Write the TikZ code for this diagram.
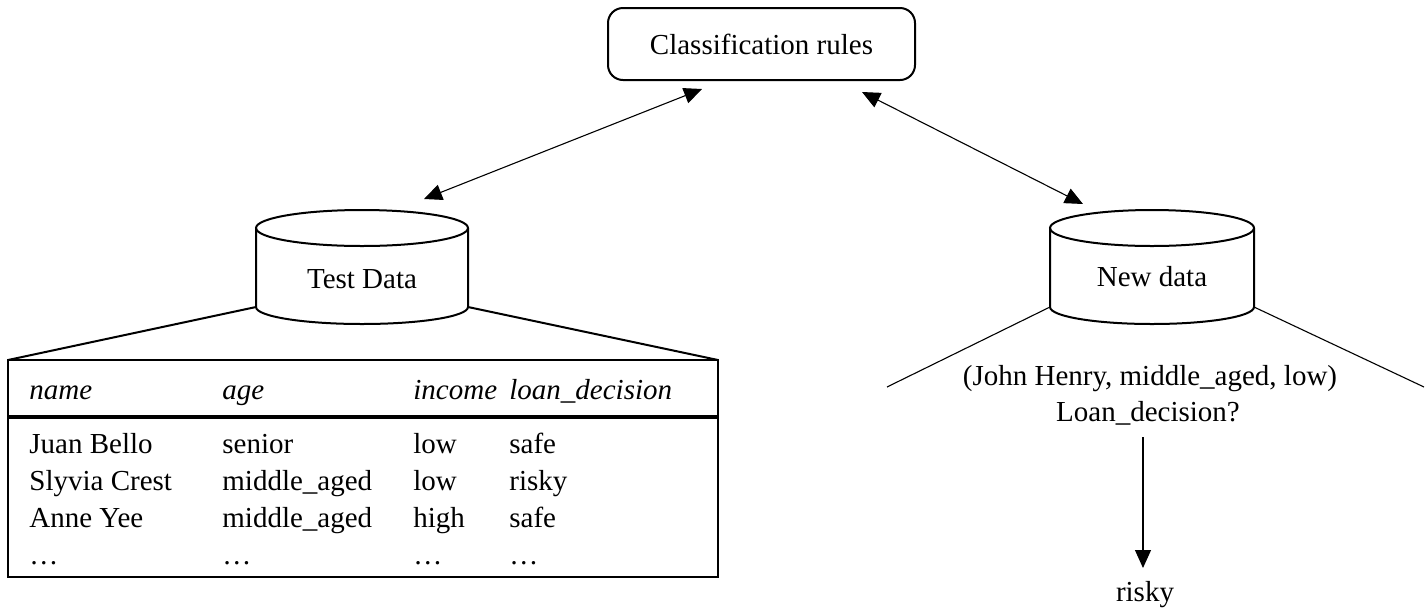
\documentclass[tikz,border=0pt]{standalone}
\usepackage{fontspec}
\setmainfont{Liberation Serif}
\usetikzlibrary{arrows.meta}
\begin{document}
\begin{tikzpicture}[x=0.5pt,y=-0.5pt,
  every node/.style={font=\fontsize{14.5}{17}\selectfont, inner sep=0pt},
  rulebox/.style={draw, line width=1pt, rounded corners=7.5pt, minimum width=153.5pt, minimum height=36pt},
  dbline/.style={line width=1pt},
  link/.style={line width=0.55pt, {Triangle[length=9pt,width=8pt]}-{Triangle[length=9pt,width=8pt]}},
  flow/.style={line width=0.55pt, -{Triangle[length=9pt,width=8pt]}},
  fan/.style={line width=0.55pt},
  cell/.style={anchor=base west},
  head/.style={anchor=base west, font=\fontsize{14.5}{17}\selectfont\itshape}]
\useasboundingbox (0,0) rectangle (1426,612);

% rules box at the top
\node[rulebox] (rules) at (761.5,44) {Classification rules};

% Test Data cylinder
\coordinate (tdTL) at (256,228);
\coordinate (tdBL) at (256,307);
\coordinate (tdTR) at (468,228);
\coordinate (tdBR) at (468,307);
\draw[dbline] (362,228) ellipse[x radius=53pt, y radius=9pt];
\draw[dbline] (tdTL) -- (tdBL) arc[start angle=180, end angle=360, x radius=53pt, y radius=8.5pt] -- (tdTR);
\node (td) at (362,279) {Test Data};

% New data cylinder
\coordinate (ndTL) at (1050,228);
\coordinate (ndBL) at (1050,307);
\coordinate (ndTR) at (1254,228);
\coordinate (ndBR) at (1254,307);
\draw[dbline] (1152,228) ellipse[x radius=51pt, y radius=9pt];
\draw[dbline] (ndTL) -- (ndBL) arc[start angle=180, end angle=360, x radius=51pt, y radius=8.5pt] -- (ndTR);
\node (nd) at (1152,277) {New data};

% links between the rules and the data stores
\coordinate (rulesL) at (702,89);
\coordinate (tdIn) at (424,199);
\coordinate (rulesR) at (862,92);
\coordinate (ndIn) at (1083,204);
\draw[link] (rulesL) -- (tdIn);
\draw[link] (rulesR) -- (ndIn);

% table of test records
\coordinate (tabTL) at (8,360);
\coordinate (tabTR) at (718,360);
\coordinate (tabBR) at (718,577);
\draw[dbline] (tdBL) -- (tabTL);
\draw[dbline] (tdBR) -- (tabTR);
\draw[line width=1.3pt] (tabTL) rectangle (tabBR);
\draw[line width=1.6pt] (8,417) -- (718,417);

\node[head] (h1) at (29,399) {name};
\node[head] (h2) at (222,399) {age};
\node[head] (h3) at (413,399) {income};
\node[head] (h4) at (509,399) {loan\_decision};

\node[cell] (a1) at (29,453) {Juan Bello};
\node[cell] (a2) at (222,453) {senior};
\node[cell] (a3) at (413,453) {low};
\node[cell] (a4) at (509,453) {safe};

\node[cell] (b1) at (29,490) {Slyvia Crest};
\node[cell] (b2) at (222,490) {middle\_aged};
\node[cell] (b3) at (413,490) {low};
\node[cell] (b4) at (509,490) {risky};

\node[cell] (c1) at (29,527) {Anne Yee};
\node[cell] (c2) at (222,527) {middle\_aged};
\node[cell] (c3) at (413,527) {high};
\node[cell] (c4) at (509,527) {safe};

\node[cell] (d1) at (29,564) {\dots};
\node[cell] (d2) at (222,564) {\dots};
\node[cell] (d3) at (413,564) {\dots};
\node[cell] (d4) at (509,564) {\dots};

% new record and its predicted class
\coordinate (fanL) at (887,387);
\coordinate (fanR) at (1424,387);
\draw[fan] (ndBL) -- (fanL);
\draw[fan] (ndBR) -- (fanR);
\node[anchor=base] (query) at (1150,385) {(John Henry, middle\_aged, low)};
\node[anchor=base] (ask) at (1148,421) {Loan\_decision?};
\node[anchor=base] (answer) at (1145,601) {risky};
\coordinate (askOut) at (1143,437);
\coordinate (ansIn) at (1143,568);
\draw[flow] (askOut) -- (ansIn);
\end{tikzpicture}
\end{document}
